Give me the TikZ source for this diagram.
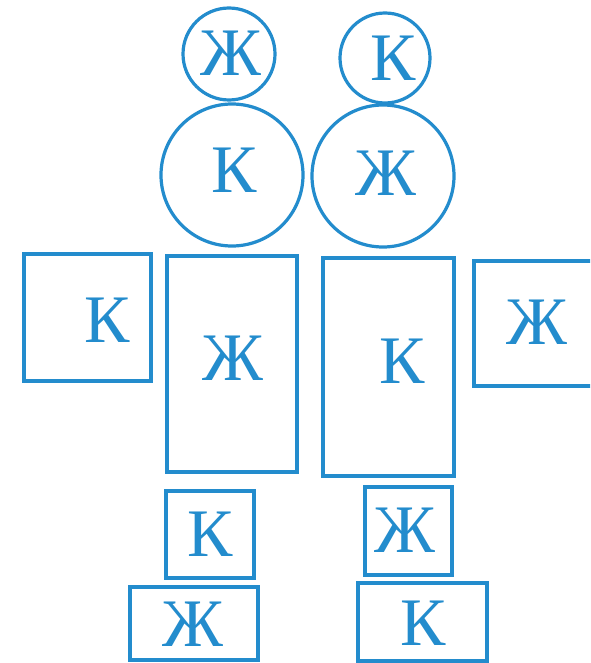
\documentclass[tikz,border=0pt]{standalone}
\usepackage{fontspec}
\setmainfont{Liberation Serif}
\definecolor{inkblue}{RGB}{35,140,205}
\begin{document}
\begin{tikzpicture}[x=1pt,y=-1pt,
  outlined/.style={draw=inkblue,line width=3.2pt,inner sep=0pt},
  circ/.style={outlined,circle},
  box/.style={outlined,rectangle},
  letter/.style={text=inkblue,font=\fontsize{68}{68}\selectfont,inner sep=0pt}]
\clip (0,0) rectangle (590,663);
\fill[white] (0,0) rectangle (590,663);
% heads
\node[circ,minimum size=92pt] (hL) at (229,54) {};
\node[circ,minimum size=90pt] (hR) at (385,58) {};
\node[circ,minimum size=142pt] (bL) at (232,175) {};
\node[circ,minimum size=142pt] (bR) at (383,176) {};
\node[letter] (thL) at (231,53) {Ж};
\node[letter] (thR) at (393,58) {К};
\node[letter] (tbL) at (234,170) {К};
\node[letter] (tbR) at (386,173) {Ж};
% arms and bodies
\node[box,minimum width=127pt,minimum height=127pt] (aL) at (87.5,317.5) {};
\node[box,minimum width=130pt,minimum height=216pt] (yL) at (232,364) {};
\node[box,minimum width=131pt,minimum height=218pt] (yR) at (388.5,367) {};
\node[box,minimum width=126pt,minimum height=125pt] (aR) at (537,323.5) {};
\node[letter] (taL) at (107,320) {К};
\node[letter] (tyL) at (233,358) {Ж};
\node[letter] (tyR) at (402,361) {К};
\node[letter] (taR) at (537,322) {Ж};
% legs
\node[box,minimum width=88pt,minimum height=87pt] (lLu) at (210,534.5) {};
\node[box,minimum width=128pt,minimum height=73pt] (lLd) at (194,623.5) {};
\node[box,minimum width=87pt,minimum height=88pt] (lRu) at (408.5,531) {};
\node[box,minimum width=129pt,minimum height=78pt] (lRd) at (422.5,622) {};
\node[letter] (tlLu) at (210,534) {К};
\node[letter] (tlLd) at (193,624) {Ж};
\node[letter] (tlRu) at (405,530) {Ж};
\node[letter] (tlRd) at (423,623) {К};
\end{tikzpicture}
\end{document}
